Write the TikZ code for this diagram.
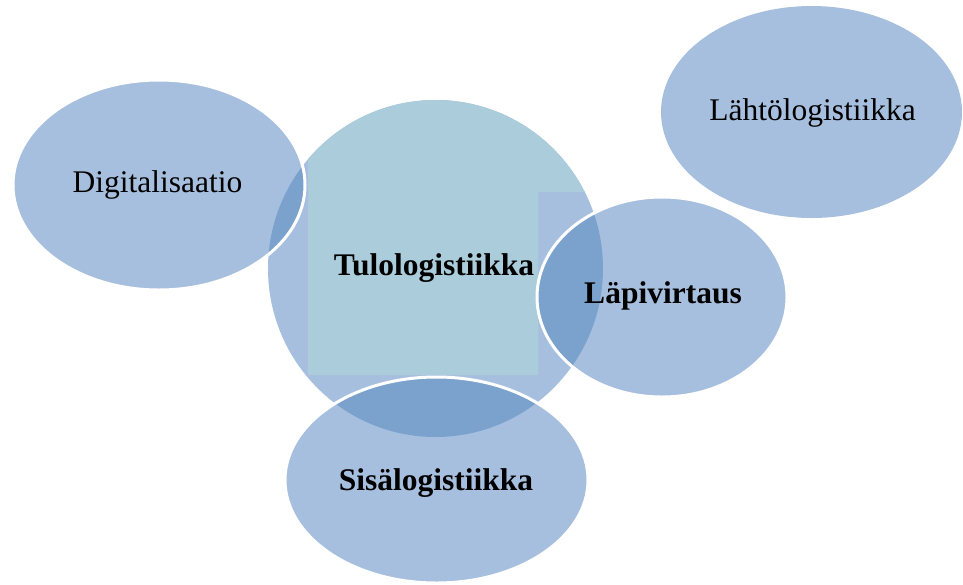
\documentclass[tikz,border=0pt]{standalone}
\usepackage{fontspec}
\setmainfont{Liberation Serif}
\definecolor{blueA}{HTML}{A7BFDE}
\definecolor{tealA}{HTML}{ABCCDB}
\definecolor{darkA}{HTML}{7BA1CD}
\begin{document}
\begin{tikzpicture}[x=1pt,y=-1pt,
  lbl/.style={font=\fontsize{31.5}{36}\selectfont, inner sep=0pt, text=black},
  blbl/.style={lbl, font=\fontsize{31.5}{36}\selectfont\bfseries},
  rim/.style={draw=white, line width=3pt}]
\useasboundingbox (0,0) rectangle (963,584);
% shape geometry
\def\circpath{(435.5,268.5) ellipse [x radius=167.5, y radius=168.5]}
\def\digpath{(159,185) ellipse [x radius=146, y radius=105]}
\def\lappath{(662,297) ellipse [x radius=125, y radius=100]}
\def\sispath{(436.5,480) ellipse [x radius=151.5, y radius=103]}
\def\lahpath{(811.5,112) ellipse [x radius=150.5, y radius=106]}
% central circle
\fill[blueA] \circpath;
\begin{scope}
  \clip \circpath;
  \fill[tealA] (308,375) -- (538,375) -- (538,192) -- (620,192) -- (620,80) -- (308,80) -- cycle;
\end{scope}
% other ellipses
\fill[blueA] \digpath;
\fill[blueA] \lappath;
\fill[blueA] \sispath;
\fill[blueA] \lahpath;
% overlaps
\begin{scope}
  \clip \circpath;
  \fill[darkA] \digpath;
  \fill[darkA] \lappath;
  \fill[darkA] \sispath;
\end{scope}
% white rims
\draw[rim] \digpath;
\draw[rim] \lappath;
\draw[rim] \sispath;
% labels
\node[lbl]  (dig) at (157.5,185) {Digitalisaatio};
\node[blbl] (tulo) at (434,268) {Tulologistiikka};
\node[blbl] (lapi) at (663,296) {Läpivirtaus};
\node[blbl] (sisa) at (436,483) {Sisälogistiikka};
\node[lbl]  (laht) at (812.5,113) {Lähtölogistiikka};
\end{tikzpicture}
\end{document}
